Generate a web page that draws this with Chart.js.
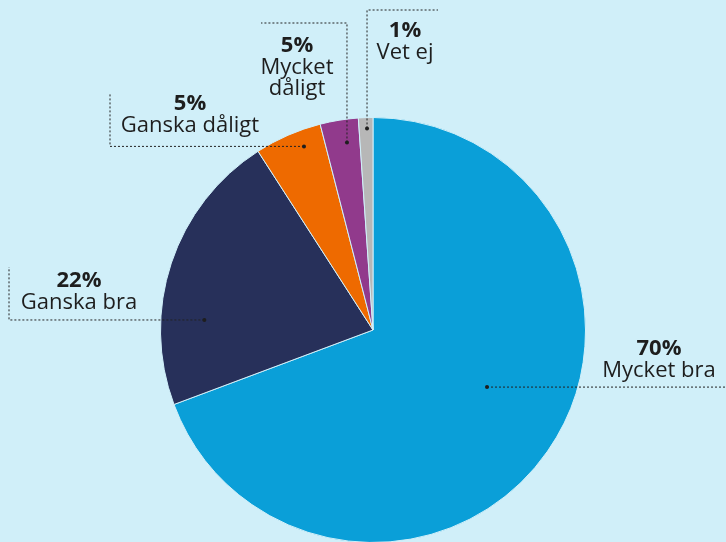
<!DOCTYPE html>
<html>
<head>
<meta charset="utf-8">
<script src="https://cdn.jsdelivr.net/npm/chart.js@4"></script>
<style>
  html, body { margin: 0; padding: 0; background: #d0eff9; overflow: hidden; }
  #wrap { position: relative; width: 726px; height: 560px; }
</style>
</head>
<body>
<div id="wrap"><canvas id="pie" width="726" height="560"></canvas></div>
<script>
// Data (clockwise from 12 o'clock)
const categories = ['Mycket bra', 'Ganska bra', 'Ganska dåligt', 'Mycket dåligt', 'Vet ej'];
const shares = [69.3, 21.6, 5.1, 2.9, 1.1];
// Percentages as printed in the labels
const printedPct = ['70%', '22%', '5%', '5%', '1%'];
const labelLines = [['Mycket bra'], ['Ganska bra'], ['Ganska dåligt'], ['Mycket', 'dåligt'], ['Vet ej']];

const colors = ['#0a9fd8', '#27305a', '#ee6a00', '#913a8c', '#b7b7b7'];

// Annotation layout: anchor dot (angle clockwise from top, fraction of radius),
// leader path corners and text position
const annot = [
    { a: 116.6, f: 0.60, path: [[726, null]], tx: 659, ty: 355 },
    { a: 273.4, f: 0.795, path: [[9, null], [9, 267]], tx: 79, ty: 287 },
    { a: 339.4, f: 0.923, path: [[110, null], [110, 93]], tx: 190, ty: 110 },
    { a: 352.1, f: 0.891, path: [[null, 23], [261, 23]], tx: 297, ty: 52 },
    { a: 358.3, f: 0.949, path: [[null, 10], [438, 10]], tx: 405, ty: 37 }
];

const labelPlugin = {
    id: 'labels',
    afterDraw(chart) {
        const ctx = chart.ctx;
        const arc = chart.getDatasetMeta(0).data[0];
        const cx = arc.x, cy = arc.y, R = arc.outerRadius;
        ctx.save();
        annot.forEach((p, i) => {
            const rad = p.a * Math.PI / 180;
            const x0 = cx + p.f * R * Math.sin(rad);
            const y0 = cy - p.f * R * Math.cos(rad);
            // leader line
            ctx.strokeStyle = '#222';
            ctx.lineWidth = 1;
            ctx.setLineDash([2, 2]);
            ctx.beginPath();
            ctx.moveTo(x0, y0);
            let px = x0, py = y0;
            p.path.forEach(pt => {
                px = pt[0] === null ? px : pt[0];
                py = pt[1] === null ? py : pt[1];
                ctx.lineTo(px, py);
            });
            ctx.stroke();
            ctx.setLineDash([]);
            ctx.fillStyle = '#1e1e1e';
            ctx.beginPath();
            ctx.arc(x0, y0, 2, 0, Math.PI * 2);
            ctx.fill();
            // text
            ctx.textAlign = 'center';
            ctx.textBaseline = 'alphabetic';
            ctx.font = 'bold 22px "Open Sans"';
            ctx.fillText(printedPct[i], p.tx, p.ty);
            ctx.font = '22px "Open Sans"';
            labelLines[i].forEach((t, j) => {
                ctx.fillText(t, p.tx, p.ty + 22 + j * 21);
            });
        });
        ctx.restore();
    }
};

new Chart(document.getElementById('pie'), {
    type: 'pie',
    data: {
        labels: categories,
        datasets: [{
            data: shares,
            backgroundColor: colors,
            borderColor: '#d0eff9',
            borderWidth: 1
        }]
    },
    options: {
        responsive: false,
        animation: false,
        layout: { padding: { top: 117, bottom: 17, left: 20, right: 0 } },
        plugins: {
            legend: { display: false },
            tooltip: { enabled: false }
        }
    },
    plugins: [labelPlugin]
});
</script>
</body>
</html>
